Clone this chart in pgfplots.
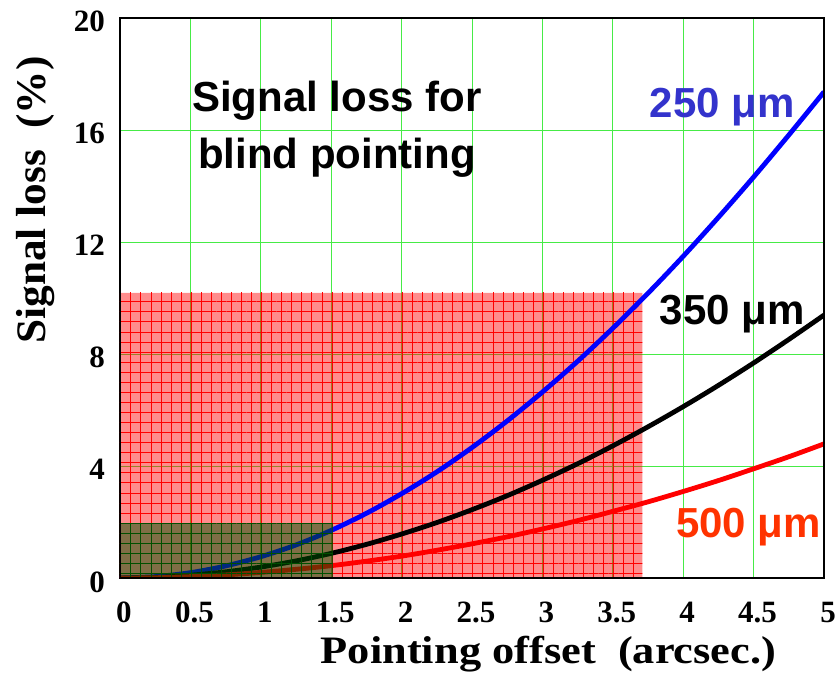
\documentclass[border=0pt]{standalone}
\usepackage{pgfplots}
\pgfplotsset{compat=1.18}
\usepackage{fontspec}
\setmainfont{Liberation Serif}
\newfontfamily\arial{Liberation Sans}
\usetikzlibrary{patterns.meta}
\definecolor{gridgreen}{RGB}{70,235,70}
\definecolor{lblblue}{RGB}{51,51,204}
\definecolor{lblred}{RGB}{255,51,0}
\definecolor{olive}{RGB}{0,80,0}

\pgfplotstableread{
x     b250   b350   b500
0     0.00   0.00   0.00
0.25  0.05   0.02   0.01
0.5   0.19   0.10   0.05
0.75  0.43   0.22   0.11
1     0.76   0.39   0.20
1.25  1.18   0.61   0.31
1.5   1.70   0.88   0.44
1.75  2.31   1.20   0.60
2     3.01   1.57   0.78
2.25  3.79   1.98   0.99
2.5   4.66   2.44   1.22
2.75  5.61   2.94   1.47
3     6.64   3.49   1.75
3.25  7.74   4.08   2.05
3.5   8.92   4.72   2.38
3.75  10.17  5.40   2.72
4     11.49  6.12   3.09
4.25  12.88  6.88   3.48
4.5   14.32  7.68   3.90
4.75  15.82  8.52   4.33
5     17.36  9.39   4.79
}\loss

\begin{document}
\begin{tikzpicture}
\path[use as bounding box] (-120pt,-96pt) rectangle (717pt,578pt);
\begin{axis}[
  at={(0,0)}, anchor=south west,
  scale only axis, width=704pt, height=560pt,
  xmin=0, xmax=5, ymin=0, ymax=20,
  xtick={0,0.5,1,1.5,2,2.5,3,3.5,4,4.5,5},
  xticklabels={0,0.5,1,1.5,2,2.5,3,3.5,4,4.5,5},
  ytick={0,4,8,12,16,20},
  grid=major, major grid style={gridgreen, line width=0.9pt},
  major tick length=0pt,
  axis line style={black, line width=1.8pt},
  tick label style={font=\fontsize{31}{31}\selectfont\bfseries, inner sep=0pt},
  /pgf/number format/assume math mode=true,
  xticklabel style={anchor=base, yshift=-44pt, xshift=4pt},
  yticklabel style={anchor=base east, xshift=-15pt, yshift=-14pt},
  xlabel={\scalebox{1.2}[1.05]{\fontsize{37}{37}\selectfont\bfseries Pointing offset~\ (arcsec.)}},
  xlabel style={at={(axis description cs:0.6087,0)}, anchor=base, yshift=-85pt},
  ylabel={\scalebox{1.03}[1]{\fontsize{42}{42}\selectfont\bfseries Signal loss~\ (\%)}},
  ylabel style={at={(axis description cs:-0.1058,0.675)}, anchor=base},
]
% red shaded region
\addplot[draw=none, fill=red, fill opacity=0.45] coordinates {(0,0) (3.71,0) (3.71,10.18) (0,10.18) (0,0)};
\addplot[draw=none, pattern={Lines[distance=10.06pt, angle=0, line width=0.8pt]}, pattern color=red] coordinates {(0,0) (3.71,0) (3.71,10.18) (0,10.18) (0,0)};
\addplot[draw=none, pattern={Lines[distance=10.06pt, angle=90, line width=0.8pt]}, pattern color=red] coordinates {(0,0) (3.71,0) (3.71,10.18) (0,10.18) (0,0)};
% curves
\addplot[blue, line width=4.8pt, smooth] table[x=x, y=b250] {\loss};
\addplot[black, line width=4.8pt, smooth] table[x=x, y=b350] {\loss};
\addplot[red, line width=4.8pt, smooth] table[x=x, y=b500] {\loss};
% olive overlay
\addplot[draw=none, fill=olive, fill opacity=0.5] coordinates {(0,0) (1.51,0) (1.51,1.93) (0,1.93) (0,0)};
\addplot[draw=none, pattern={Lines[distance=10.06pt, angle=0, line width=0.8pt]}, pattern color=olive, fill opacity=0.5] coordinates {(0,0) (1.51,0) (1.51,1.93) (0,1.93) (0,0)};
\addplot[draw=none, pattern={Lines[distance=10.06pt, angle=90, line width=0.8pt]}, pattern color=olive, fill opacity=0.5] coordinates {(0,0) (1.51,0) (1.51,1.93) (0,1.93) (0,0)};
% frame
\draw[black, line width=1.8pt] (rel axis cs:0,0) rectangle (rel axis cs:1,1);
% labels
\node[anchor=base, font=\arial\fontsize{42}{42}\selectfont\bfseries] at (axis cs:1.541,16.65) {Signal loss for};
\node[anchor=base, font=\arial\fontsize{42}{42}\selectfont\bfseries] at (axis cs:1.541,14.64) {blind pointing};
\node[anchor=base, font=\arial\fontsize{42}{42}\selectfont\bfseries, text=lblblue] at (axis cs:4.276,16.46) {250 μm};
\node[anchor=base, font=\arial\fontsize{42}{42}\selectfont\bfseries, text=black] at (axis cs:4.347,9.04) {350 μm};
\node[anchor=base, font=\arial\fontsize{42}{42}\selectfont\bfseries, text=lblred] at (axis cs:4.464,1.46) {500 μm};
\end{axis}
\end{tikzpicture}
\end{document}
